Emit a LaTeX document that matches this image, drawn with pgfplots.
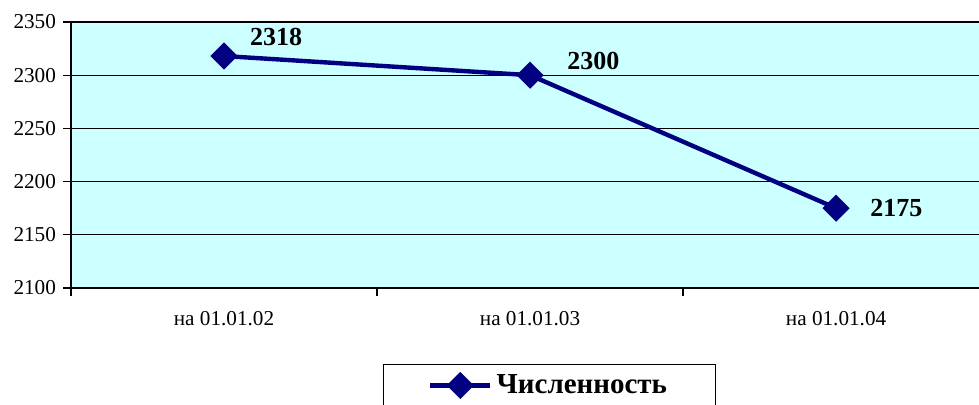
\documentclass[border=0pt]{standalone}
\usepackage{pgfplots}
\pgfplotsset{compat=1.18}
\usepackage{pgfplotstable}
\usepackage{fontspec}
\setmainfont{Liberation Serif}
\usetikzlibrary{calc}
\definecolor{bgc}{HTML}{CCFFFF}
\definecolor{navyc}{HTML}{000080}
\pgfplotsset{/pgf/number format/1000 sep={}, /pgf/number format/assume math mode=true}
\pgfplotstableread{
x y dx dy
0 2318 12 9.5
1 2300 17.5 7
2 2175 16 0
}\data
\begin{document}
\begin{tikzpicture}
\begin{axis}[
 scale only axis, width=454pt, height=133pt,
 xmin=-0.5, xmax=2.467, ymin=2100, ymax=2350,
 ytick={2100,2150,...,2350},
 ymajorgrids, grid style={black, line width=0.5pt},
 axis x line*=bottom, axis y line*=left,
 axis line style={line width=1pt},
 axis background/.style={fill=bgc},
 tick align=outside, major tick length=4pt, tick style={black, line width=0.6pt},
 xtick={-0.5,0.5,1.5}, xticklabels={},
 extra x ticks={0,1,2}, extra x tick labels={на 01.01.02,на 01.01.03,на 01.01.04},
 extra x tick style={major tick length=0pt, grid=none},
 x tick label style={yshift=-8pt},
 tick label style={font=\fontsize{10.6}{12}\selectfont},
 legend style={at={(0.527,0)}, anchor=north, yshift=-38pt, draw=black, line width=0.5pt,
   inner xsep=22pt, inner ysep=3pt, font=\bfseries\fontsize{14.5}{16}\selectfont},
 legend image code/.code={\draw[mark repeat=2, mark phase=2] plot coordinates {(0cm,0cm)(0.53cm,0cm)(1.06cm,0cm)};},
]
\addplot[navyc, line width=2.2pt, mark=square*, mark size=3.7pt, mark options={rotate=45, solid},
  nodes near coords, point meta=explicit,
  visualization depends on=\thisrow{dx}\as\dx,
  visualization depends on=\thisrow{dy}\as\dy,
  nodes near coords style={anchor=west, inner sep=0pt, xshift=\dx pt, yshift=\dy pt, text=black,
    font=\bfseries\fontsize{13}{15}\selectfont}]
  table[x=x, y=y, meta=y] {\data};
\addlegendentry{Численность}
\draw[line width=1pt] (rel axis cs:0,1) -- (rel axis cs:1,1);
\coordinate (bl) at (rel axis cs:0,0);
\coordinate (tr) at (rel axis cs:1,1);
\end{axis}
\pgfresetboundingbox
\path[use as bounding box] ($(bl)+(-35.5pt,-58.5pt)$) rectangle ($(tr)+(0pt,11pt)$);
\end{tikzpicture}
\end{document}
